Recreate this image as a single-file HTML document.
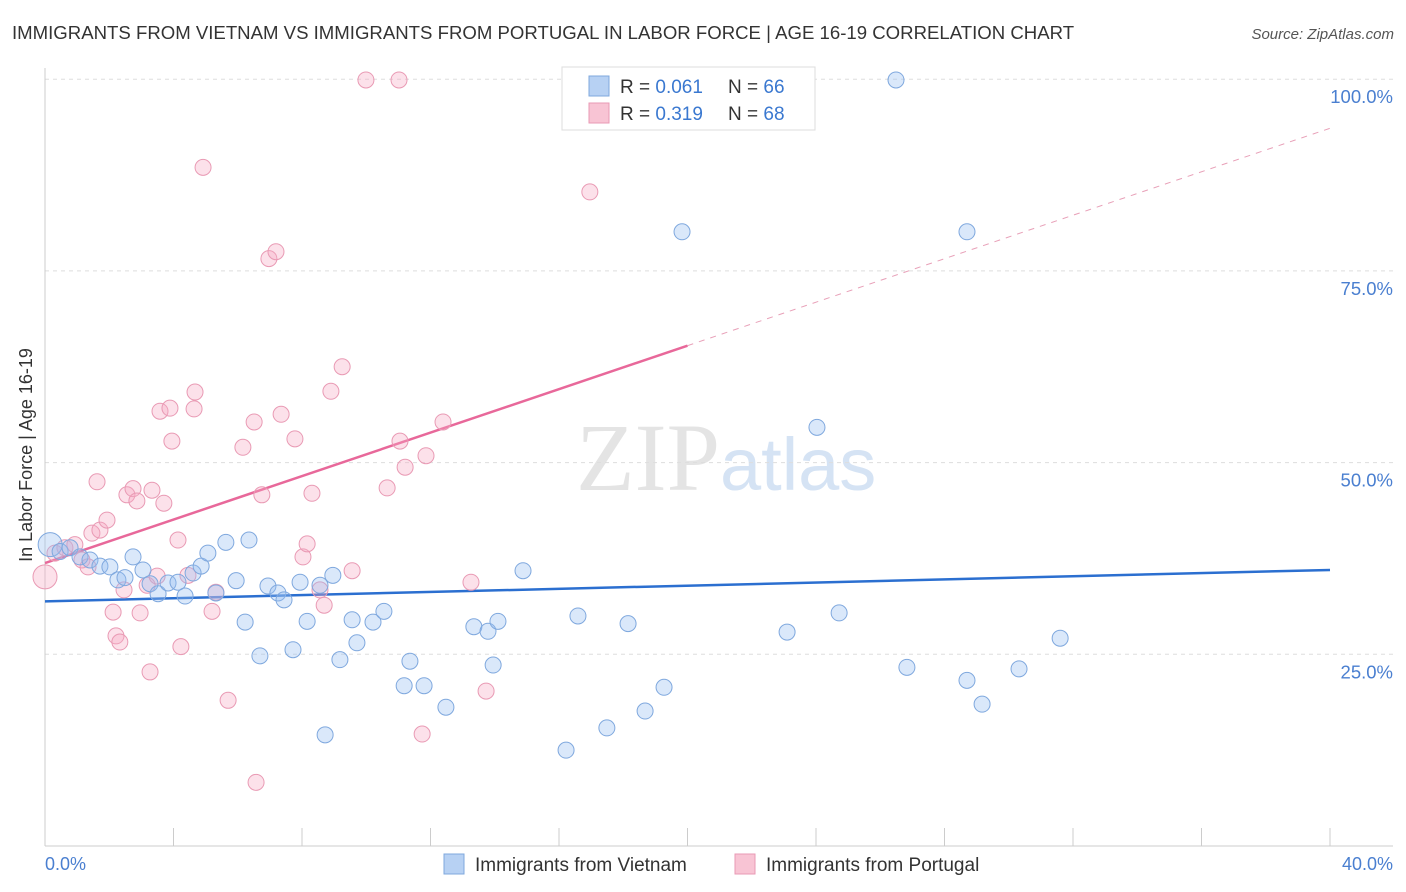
<!DOCTYPE html>
<html><head><meta charset="utf-8"><style>
body{margin:0;background:#fff;font-family:"Liberation Sans",sans-serif;}
svg{display:block}
</style></head><body>
<svg id="chart" width="1406" height="892">
<text x="12" y="39" font-size="18.6" fill="#333">IMMIGRANTS FROM VIETNAM VS IMMIGRANTS FROM PORTUGAL IN LABOR FORCE | AGE 16-19 CORRELATION CHART</text>
<text x="1394" y="39" font-size="15" fill="#555" font-style="italic" text-anchor="end">Source: ZipAtlas.com</text>
<text x="720" y="490" font-size="96" fill="#e4e4e4" text-anchor="end" font-family="Liberation Serif">ZIP</text>
<text x="720" y="490" font-size="74" fill="#d5e3f4">atlas</text>
<g id="grid"></g><g id="axes"></g><g id="lines"></g><g id="pts"></g>
<text x="32" y="455" font-size="18" fill="#333" text-anchor="middle" transform="rotate(-90 32 455)">In Labor Force | Age 16-19</text>
<text x="45" y="870" font-size="18" fill="#4a7fd0">0.0%</text>
<text x="1393" y="870" font-size="18" fill="#4a7fd0" text-anchor="end">40.0%</text>
<g>
<rect x="562" y="67" width="253" height="63" fill="#fff" stroke="#ddd"/>
<rect x="589" y="76" width="20" height="20" fill="#b7d1f3" stroke="#7fa8de"/>
<rect x="589" y="103" width="20" height="20" fill="#f8c4d4" stroke="#e99ab4"/>
<text x="620" y="93" font-size="19" fill="#333">R = <tspan fill="#3a78d0">0.061</tspan></text>
<text x="728" y="93" font-size="19" fill="#333">N = <tspan fill="#3a78d0">66</tspan></text>
<text x="620" y="120" font-size="19" fill="#333">R = <tspan fill="#3a78d0">0.319</tspan></text>
<text x="728" y="120" font-size="19" fill="#333">N = <tspan fill="#3a78d0">68</tspan></text>
</g>
<g>
<rect x="444" y="854" width="20" height="20" fill="#b7d1f3" stroke="#7fa8de"/>
<text x="475" y="871" font-size="19" fill="#333">Immigrants from Vietnam</text>
<rect x="735" y="854" width="20" height="20" fill="#f8c4d4" stroke="#e99ab4"/>
<text x="766" y="871" font-size="19" fill="#333">Immigrants from Portugal</text>
</g>
</svg>
<script>
const yTicks=[25,50,75,100];
const yTickLabels=["25.0%","50.0%","75.0%","100.0%"];
const xTicks=[0,4,8,12,16,20,24,28,32,36,40];
const blueX=[0.16,0.47,0.78,1.09,1.40,1.71,2.02,2.27,2.49,2.74,3.05,3.27,3.52,3.83,4.14,4.36,4.61,4.86,5.07,5.32,5.63,5.95,6.23,6.35,6.69,6.94,7.25,7.44,7.72,7.94,8.16,8.56,8.72,8.96,9.18,9.56,9.71,10.21,10.55,11.18,11.36,11.80,12.48,13.35,13.79,13.95,14.10,14.88,16.22,16.59,17.49,18.15,18.68,19.27,19.83,23.10,24.03,24.72,26.49,26.83,28.70,28.70,29.17,30.32,31.60];
const blueY=[39.3,38.4,38.9,37.7,37.3,36.5,36.4,34.7,35.0,37.7,36.0,34.2,32.9,34.3,34.4,32.6,35.6,36.5,38.2,33.0,39.6,34.6,29.2,39.9,24.8,33.9,33.0,32.1,25.6,34.4,29.3,34.0,14.5,35.3,24.3,29.5,26.5,29.2,30.6,20.9,24.1,20.9,18.1,28.6,28.0,23.6,29.3,35.9,12.5,30.0,15.4,29.0,17.6,20.7,80.1,27.9,54.6,30.4,99.9,23.3,80.1,21.6,18.5,23.1,27.1];
const pinkX=[0,0.31,0.62,0.93,1.15,1.34,1.46,1.62,1.71,1.93,2.12,2.21,2.33,2.46,2.55,2.74,2.86,2.96,3.18,3.27,3.33,3.49,3.58,3.70,3.89,3.95,4.14,4.23,4.45,4.64,4.67,4.92,5.20,5.32,5.70,6.16,6.51,6.57,6.75,6.97,7.19,7.35,7.78,8.03,8.16,8.31,8.56,8.69,8.90,9.25,9.56,9.99,10.65,11.02,11.05,11.21,11.74,11.86,12.39,13.26,13.73,16.96];
const pinkY=[35.1,38.2,38.9,39.3,37.3,36.4,40.8,47.5,41.2,42.5,30.5,27.4,26.6,33.4,45.8,46.6,45.0,30.4,34.0,22.7,46.4,35.2,56.7,44.7,57.1,52.8,39.9,26.0,35.3,57.0,59.2,88.5,30.6,33.1,19.0,52.0,55.3,8.3,45.8,76.6,77.5,56.3,53.1,37.7,39.4,46.0,33.4,31.4,59.3,62.5,35.9,99.9,46.7,99.9,52.8,49.4,14.6,50.9,55.3,34.4,20.2,85.3];
const blueTrend=[31.9,36.0];
const pinkTrend=[36.9,93.6];
const X=v=>45+v*32.125, Y=v=>846-v*7.668;
const NS="http://www.w3.org/2000/svg";
function mk(tag,attrs,parent){const e=document.createElementNS(NS,tag);for(const k in attrs)e.setAttribute(k,attrs[k]);document.getElementById(parent).appendChild(e);return e;}
yTicks.forEach((t,i)=>{
 const l=mk('line',{x1:45,x2:1393,y1:Y(t),y2:Y(t),stroke:'#ddd','stroke-dasharray':'4,4'},'grid');
 
 
 const tx=mk('text',{x:1393,y:Y(t)+24,'font-size':18.5,fill:'#4a7fd0','text-anchor':'end'},'grid');
 tx.textContent=yTickLabels[i];
 
 
});
const ax=mk('line',{x1:45,x2:1393,y1:846,y2:846,stroke:'#ccc'},'axes');


const ay=mk('line',{x1:45,x2:45,y1:68,y2:846,stroke:'#ccc'},'axes');


xTicks.forEach(t=>{
 const l=mk('line',{x1:X(t),x2:X(t),y1:828,y2:846,stroke:'#ccc'},'axes');
 
 
});
function dot(x,y,r,fill,stroke,name){
 const c=mk('circle',{cx:X(x),cy:Y(y),r:r,fill:fill,stroke:stroke,'stroke-width':1},'pts');
 
 
}
pinkX.forEach((x,i)=>dot(x,pinkY[i],i===0?12:8,'rgba(246,170,196,0.35)','#e99ab4','point-portugal'));
blueX.forEach((x,i)=>dot(x,blueY[i],i===0?12:8,'rgba(150,190,240,0.35)','#7fa8de','point-vietnam'));
const bl=mk('line',{x1:X(0),y1:Y(blueTrend[0]),x2:X(40),y2:Y(blueTrend[1]),stroke:'#2b6fd0','stroke-width':2.5},'lines');


const pm=pinkTrend[0]+(pinkTrend[1]-pinkTrend[0])/2;
const pl=mk('line',{x1:X(0),y1:Y(pinkTrend[0]),x2:X(20),y2:Y(pm),stroke:'#e8689a','stroke-width':2.5},'lines');


const pd=mk('line',{x1:X(20),y1:Y(pm),x2:X(40),y2:Y(pinkTrend[1]),stroke:'#e8a0b8','stroke-width':1,'stroke-dasharray':'6,6'},'lines');


</script>
</body></html>
